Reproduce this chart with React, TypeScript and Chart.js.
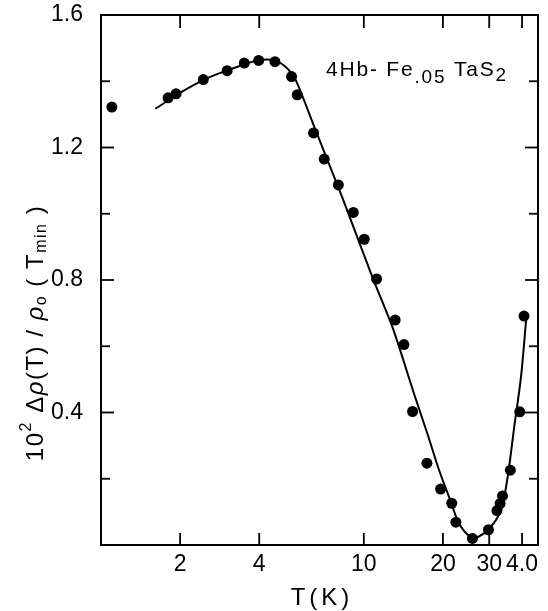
import React, { useEffect, useRef } from "react";
import { Chart, registerables } from "chart.js";

Chart.register(...registerables);

// Measured data points (T in K, 10^2 Δρ/ρ0)
const dotsT = [1.10, 1.80, 1.93, 2.45, 3.02, 3.51, 3.98, 4.59, 5.31, 5.58, 6.44, 7.07, 8.0, 9.12, 10.04, 11.18, 13.16, 14.21, 15.33, 17.38, 19.6, 21.6, 22.4, 25.9, 29.8, 32.1, 33.0, 33.7, 36.1, 39.2, 40.7];
const dotsV = [1.322, 1.350, 1.362, 1.405, 1.432, 1.455, 1.463, 1.459, 1.414, 1.359, 1.244, 1.165, 1.087, 1.004, 0.923, 0.803, 0.679, 0.605, 0.403, 0.247, 0.169, 0.126, 0.069, 0.020, 0.046, 0.104, 0.125, 0.148, 0.226, 0.402, 0.691];

// Fitted curve
const lineT = [1.61, 2.02, 2.55, 3.21, 3.95, 4.57, 5.13, 5.52, 6.48, 8.30, 10.76, 12.87, 15.55, 17.47, 19.36, 21.13, 23.07, 25.5, 27.3, 29.99, 33.23, 35.24, 37.33, 39.60, 41.48];
const lineV = [1.317, 1.367, 1.410, 1.440, 1.463, 1.463, 1.438, 1.402, 1.262, 1.047, 0.810, 0.656, 0.455, 0.335, 0.225, 0.144, 0.064, 0.024, 0.025, 0.049, 0.104, 0.204, 0.355, 0.505, 0.681];

const xTicks = [2, 4, 10, 20, 30, 40];
const xTickLabels = ["2", "4", "10", "20", "30", "4.0"];
const yTicks = [0.2, 0.4, 0.6, 0.8, 1.0, 1.2, 1.4, 1.6];
const yMajor = [0.4, 0.8, 1.2, 1.6];

const FONT = "'Liberation Sans', Arial, sans-serif";

function drawRuns(ctx: CanvasRenderingContext2D, runs: { t: string; s: number; dy?: number; it?: boolean }[], x0: number, y0: number, spacing: number, center: boolean) {
  (ctx as any).letterSpacing = spacing + "px";
  let total = 0;
  for (const r of runs) {
    ctx.font = `${r.it ? "italic " : ""}${r.s}px ${FONT}`;
    total += ctx.measureText(r.t).width;
  }
  let x = center ? x0 - total / 2 : x0;
  for (const r of runs) {
    ctx.font = `${r.it ? "italic " : ""}${r.s}px ${FONT}`;
    ctx.fillText(r.t, x, y0 + (r.dy || 0));
    x += ctx.measureText(r.t).width;
  }
  (ctx as any).letterSpacing = "0px";
}

const framePlugin = {
  id: "frame",
  afterDraw(chart: any) {
    const { ctx, chartArea: a, scales } = chart;
    const xs = scales.x;
    const ys = scales.y;
    ctx.save();
    ctx.strokeStyle = "#000";
    ctx.fillStyle = "#000";
    ctx.lineWidth = 2;
    ctx.strokeRect(a.left, a.top, a.right - a.left, a.bottom - a.top);
    ctx.lineWidth = 1.8;
    const seg = (x1: number, y1: number, x2: number, y2: number) => {
      ctx.beginPath();
      ctx.moveTo(x1, y1);
      ctx.lineTo(x2, y2);
      ctx.stroke();
    };
    for (const v of xTicks) {
      const px = xs.getPixelForValue(v);
      seg(px, a.bottom, px, a.bottom - 12);
      seg(px, a.top, px, a.top + 13);
    }
    for (const v of yTicks) {
      const py = ys.getPixelForValue(v);
      const major = yMajor.some((m) => Math.abs(m - v) < 1e-6);
      const len = major ? 13 : 9;
      seg(a.left, py, a.left + len, py);
      seg(a.right, py, a.right - len, py);
    }

    // annotation
    ctx.textBaseline = "alphabetic";
    ctx.textAlign = "left";
    drawRuns(ctx, [
      { t: "4Hb- Fe", s: 21 },
      { t: ".05", s: 19, dy: 7 },
      { t: " TaS", s: 21 },
      { t: "2", s: 19, dy: 5 },
    ], 326, 76, 1.8, false);

    // x title
    ctx.textBaseline = "middle";
    drawRuns(ctx, [{ t: "T(K)", s: 24 }], 322, 598, 4, true);

    // y title
    ctx.translate(36, 333);
    ctx.rotate(-Math.PI / 2);
    ctx.textBaseline = "middle";
    drawRuns(ctx, [
      { t: "10", s: 24 },
      { t: "2", s: 16, dy: -9 },
      { t: " Δ", s: 24 },
      { t: "ρ", s: 24, it: true },
      { t: "(T) / ", s: 24 },
      { t: "ρ", s: 24, it: true },
      { t: "o", s: 16, dy: 6 },
      { t: " ( T", s: 24 },
      { t: "min", s: 16, dy: 6 },
      { t: " )", s: 24 },
    ], 0, 0, 1.5, true);
    ctx.restore();
  },
};

export default function App() {
  const ref = useRef<HTMLCanvasElement>(null);
  useEffect(() => {
    document.body.style.margin = "0";
    const canvas = ref.current!;
    const chart = new Chart(canvas, {
      type: "scatter",
      data: {
        datasets: [
          {
            data: lineT.map((t, i) => ({ x: t, y: lineV[i] })),
            showLine: true,
            pointRadius: 0,
            borderColor: "#000",
            borderWidth: 2,
            tension: 0.3,
          } as any,
          {
            data: dotsT.map((t, i) => ({ x: t, y: dotsV[i] })),
            showLine: false,
            pointRadius: 5.5,
            pointBackgroundColor: "#000",
            pointBorderWidth: 0,
            backgroundColor: "#000",
            borderColor: "#000",
          },
        ],
      },
      options: {
        responsive: false,
        animation: false,
        layout: { padding: { top: 15, right: 10, left: 0, bottom: 0 } },
        plugins: { legend: { display: false }, tooltip: { enabled: false } },
        scales: {
          x: {
            type: "logarithmic",
            min: 1,
            max: 46,
            grid: { display: false, drawTicks: false },
            border: { display: false },
            afterBuildTicks: (s: any) => {
              s.ticks = xTicks.map((v) => ({ value: v }));
            },
            afterFit: (s: any) => {
              s.height = 66;
              s.paddingLeft = 0;
              s.paddingRight = 0;
            },
            ticks: {
              autoSkip: false,
              maxRotation: 0,
              padding: 6,
              color: "#000",
              font: { family: FONT, size: 23 },
              callback: (v: any) => {
                const i = xTicks.indexOf(Number(v));
                return i >= 0 ? xTickLabels[i] : "";
              },
            },
          },
          y: {
            min: 0,
            max: 1.6,
            grid: { display: false, drawTicks: false },
            border: { display: false },
            afterBuildTicks: (s: any) => {
              s.ticks = yMajor.map((v) => ({ value: v }));
            },
            afterFit: (s: any) => {
              s.width = 101;
              s.paddingTop = 0;
              s.paddingBottom = 0;
            },
            ticks: {
              padding: 18,
              color: "#000",
              font: { family: FONT, size: 23 },
              callback: (v: any) => Number(v).toFixed(1),
            },
          },
        },
      },
      plugins: [framePlugin],
    });
    return () => chart.destroy();
  }, []);
  return <canvas ref={ref} width={548} height={611} style={{ display: "block" }} />;
}
